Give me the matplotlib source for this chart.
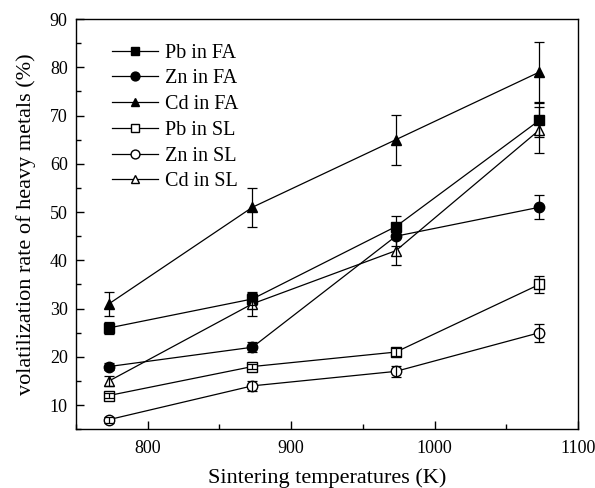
import matplotlib
matplotlib.use("Agg")
import matplotlib.pyplot as plt
from matplotlib.ticker import MultipleLocator

plt.rcParams['font.family'] = ['Liberation Serif', 'DejaVu Serif']
plt.rcParams['mathtext.fontset'] = 'stix'

temperatures = [773, 873, 973, 1073]

series_labels = ["Pb in FA", "Zn in FA", "Cd in FA", "Pb in SL", "Zn in SL", "Cd in SL"]
pb_fa = [26, 32, 47, 69]
zn_fa = [18, 22, 45, 51]
cd_fa = [31, 51, 65, 79]
pb_sl = [12, 18, 21, 35]
zn_sl = [7, 14, 17, 25]
cd_sl = [15, 31, 42, 67]

pb_fa_err = [1.2, 1.3, 2.2, 3.5]
zn_fa_err = [0.8, 1.0, 2.0, 2.5]
cd_fa_err = [2.5, 4.0, 5.2, 6.2]
pb_sl_err = [0.6, 0.6, 0.8, 1.7]
zn_sl_err = [0.6, 1.0, 1.2, 1.9]
cd_sl_err = [1.0, 2.5, 3.0, 4.7]

values = [pb_fa, zn_fa, cd_fa, pb_sl, zn_sl, cd_sl]
errors = [pb_fa_err, zn_fa_err, cd_fa_err, pb_sl_err, zn_sl_err, cd_sl_err]
markers = ['s', 'o', '^', 's', 'o', '^']
fills = ['black', 'black', 'black', 'white', 'white', 'white']
msizes = [6.5, 7.5, 7.5, 6.5, 7.5, 7.5]

fig = plt.figure(figsize=(5.95, 4.88), dpi=100)
ax = fig.add_axes([0.1277, 0.1203, 0.9714 - 0.1277, 0.961 - 0.1203])

for y, e, m, fc, ms, lab in zip(values, errors, markers, fills, msizes, series_labels):
    ax.plot(temperatures, y, color='black', lw=0.9, marker=m, ms=ms,
            mfc=fc, mec='black', mew=1.0, label=lab, zorder=3)
    ax.errorbar(temperatures, y, yerr=e, fmt='none', ecolor='black',
                elinewidth=0.9, capsize=3.5, capthick=0.9, zorder=4)

ax.set_xlim(750, 1100)
ax.set_ylim(5, 90)
ax.xaxis.set_major_locator(MultipleLocator(100))
ax.xaxis.set_minor_locator(MultipleLocator(50))
ax.yaxis.set_major_locator(MultipleLocator(10))
ax.yaxis.set_minor_locator(MultipleLocator(5))
ax.set_yticks(range(10, 91, 10))

ax.tick_params(which='both', direction='in', top=False, right=False,
               labelsize=13, width=1.0)
ax.tick_params(which='major', length=6)
ax.tick_params(which='minor', length=3.5)
ax.tick_params(axis='x', pad=8)
ax.tick_params(axis='y', pad=6)
for sp in ax.spines.values():
    sp.set_linewidth(1.0)

ax.set_xlabel("Sintering temperatures (K)", fontsize=16, labelpad=8)
ax.set_ylabel("volatilization rate of heavy metals (%)", fontsize=16, labelpad=10)

leg = ax.legend(loc='upper left', frameon=False, fontsize=14.5,
                handlelength=2.3, handletextpad=0.35, labelspacing=0.33,
                borderaxespad=0.0, bbox_to_anchor=(0.055, 0.96), markerscale=0.85)

fig.savefig("out.png", dpi=100)
